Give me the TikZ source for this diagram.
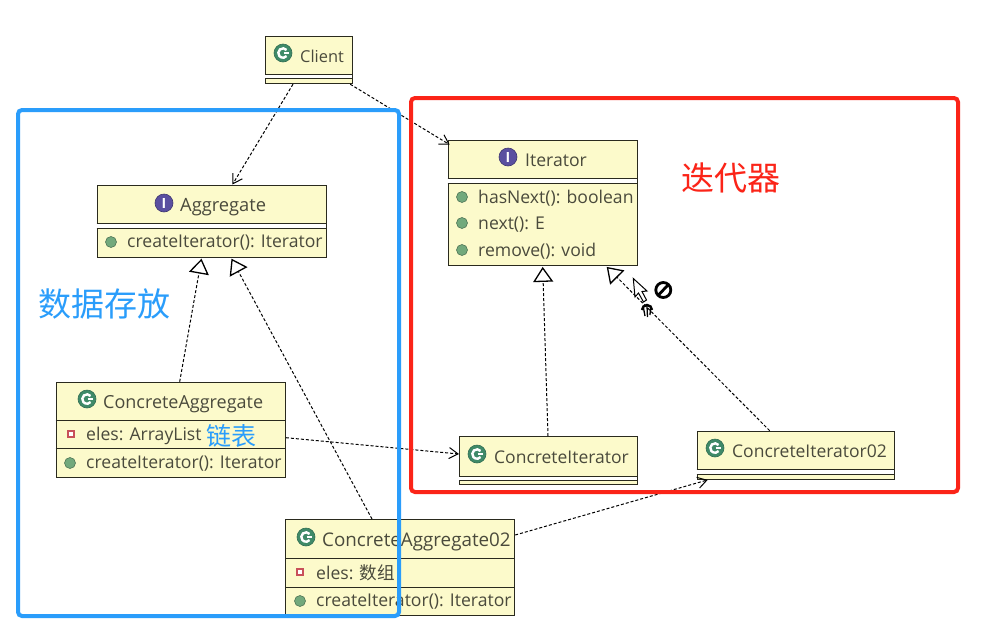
\documentclass[tikz,border=0pt]{standalone}
\usepackage{fontspec}
\setmainfont{Open Sans}
\newfontfamily\cjk{Noto Sans CJK SC}
\usetikzlibrary{arrows.meta,calc}
\definecolor{boxfill}{HTML}{FCFACB}
\definecolor{boxline}{HTML}{2A2A1E}
\definecolor{txt}{HTML}{4A4A3C}
\definecolor{cgreen}{HTML}{3F8A68}
\definecolor{ipurple}{HTML}{5A4FA0}
\definecolor{mgreen}{HTML}{72A97C}
\definecolor{fred}{HTML}{C8505A}
\definecolor{myblue}{HTML}{2A9DFB}
\definecolor{myred}{HTML}{FB2418}
\tikzset{
  classbox/.style={draw=boxline,fill=boxfill,line width=1.2pt,inner sep=0pt,anchor=north west},
  sepline/.style={draw=boxline,line width=1pt},
  gapfill/.style={fill=white},
  label/.style={text=txt,font=\fontsize{17.6}{20}\selectfont,inner sep=0pt,anchor=west},
  head/.style={label,font=\fontsize{#1}{20}\selectfont},
  icong/.style={circle,fill=cgreen,draw=cgreen!80!black,line width=.6pt,minimum size=18pt,inner sep=0pt},
  iconi/.style={circle,fill=ipurple,draw=ipurple!70!black,line width=.6pt,minimum size=18pt,inner sep=0pt,text=white,font=\bfseries\fontsize{14}{14}\selectfont},
  mdot/.style={circle,fill=mgreen,draw=mgreen!70!black,line width=.6pt,minimum size=11pt,inner sep=0pt},
  fdot/.style={rectangle,fill=white,draw=fred,line width=1.8pt,minimum size=6pt,inner sep=0pt},
  dep/.style={draw=black,line width=1pt,dash pattern=on 3pt off 2pt,-{Straight Barb[length=9pt,width=11pt,line width=1pt]}},
  real/.style={draw=black,line width=1pt,dash pattern=on 3pt off 2pt,-{Triangle[open,length=15pt,width=20pt,fill=white,line width=1.3pt]}},
  region/.style={draw,line width=4pt,rounded corners=4pt},
  bigcjk/.style={font=\cjk\fontsize{33}{36}\selectfont,inner sep=0pt},
}
\begin{document}
\begin{tikzpicture}[x=1pt,y=-1pt]
\useasboundingbox[fill=white] (0,0) rectangle (989,622);

% class boxes
\node[classbox,minimum width=87pt,minimum height=47pt] (client) at (265,36) {};
\node[classbox,minimum width=229pt,minimum height=72pt] (aggregate) at (96.5,184.5) {};
\node[classbox,minimum width=189pt,minimum height=125pt] (iterator) at (447.7,139.7) {};
\node[classbox,minimum width=229pt,minimum height=95pt] (ca) at (55.7,381.7) {};
\node[classbox,minimum width=229pt,minimum height=96pt] (ca2) at (285,519) {};
\node[classbox,minimum width=178pt,minimum height=48pt] (ci) at (459,436) {};
\node[classbox,minimum width=197pt,minimum height=48pt] (ci2) at (696.7,430.7) {};

% empty compartments (white gap between two lines)
\foreach \n/\w/\ya/\yb in {client/87/38/42.5,aggregate/229/39/43.5,iterator/189/39/43.5,ci/178/40/44.5,ci2/197/39/44}{
  \fill[gapfill] ($(\n.north west)+(0,\ya)$) rectangle ($(\n.north west)+(\w,\yb)$);
  \draw[sepline] ($(\n.north west)+(0,\ya)$) -- ++(\w,0);
  \draw[sepline] ($(\n.north west)+(0,\yb)$) -- ++(\w,0);
}
% compartment lines
\foreach \n/\w/\ya in {ca/229/39,ca/229/67,ca2/229/39,ca2/229/68}
  \draw[sepline] ($(\n.north west)+(0,\ya)$) -- ++(\w,0);

% class heads
\node[icong] (i1) at (283,53) {};
\node[head=16.4] (t1) at (300,56) {Client};
\node[iconi] (i2) at (164,203) {I};
\node[head=18.3] (t2) at (180,207) {Aggregate};
\node[iconi] (i3) at (508,157) {I};
\node[head=17.6] (t3) at (525,160) {Iterator};
\node[icong] (i4) at (87,399) {};
\node[head=18] (t4) at (103,404) {ConcreteAggregate};
\node[icong] (i5) at (306,537) {};
\node[head=18.8] (t5) at (322,542) {ConcreteAggregate02};
\node[icong] (i6) at (477,454) {};
\node[head=17.5] (t6) at (494,457) {ConcreteIterator};
\node[icong] (i7) at (715,448) {};
\node[head=17.5] (t7) at (732,451) {ConcreteIterator02};
% the white C inside the class icons
\foreach \n in {i1,i4,i5,i6,i7}{
  \draw[white,line width=2.4pt] ($(\n.center)+(3.6,-3)$) arc[start angle=40,end angle=320,radius=4.7pt];
  \draw[white,line width=1.6pt] ($(\n.center)+(.5,.2)$) -- ++(5,0);
}

% members
\node[mdot] (m1) at (111,242) {};
\node[label] (l1) at (127,243) {createIterator(): Iterator};
\node[mdot] (m2) at (462,197) {};
\node[label] (l2) at (478,198) {hasNext(): boolean};
\node[mdot] (m3) at (462,223) {};
\node[label] (l3) at (478,225) {next(): E};
\node[mdot] (m4) at (462,250) {};
\node[label] (l4) at (478,251) {remove(): void};
\node[fdot] (f1) at (71,434) {};
\node[label] (l5) at (86,436) {eles: ArrayList};
\node[mdot] (m5) at (70,463) {};
\node[label] (l6) at (86,464) {createIterator(): Iterator};
\node[fdot] (f2) at (300,572) {};
\node[label] (l7) at (316,573) {eles: {\cjk 数组}};
\node[mdot] (m6) at (300,601) {};
\node[label] (l8) at (316,602) {createIterator(): Iterator};

% connectors
\draw[dep] ($(client.south west)+(28,0)$) -- ($(aggregate.north west)+(136,0)$);
\draw[dep] ($(client.south east)+(-3,0)$) -- ($(iterator.north west)+(2,5)$);
\draw[real] ($(ca.north west)+(124,0)$) -- ($(aggregate.south west)+(105,1)$);
\draw[real] ($(ca2.north west)+(87,0)$) -- ($(aggregate.south west)+(135,1)$);
\draw[real] ($(ci.north west)+(89,0)$) -- ($(iterator.south west)+(95,1)$);
\draw[real] ($(ci2.north west)+(73,0)$) -- ($(iterator.south west)+(159,1)$);
\draw[dep] ($(ca.north east)+(0,56)$) -- ($(ci.north west)+(0,18)$);
\draw[dep] ($(ca2.north east)+(0,16)$) -- ($(ci2.south west)+(11,0)$);

% annotation regions
\draw[region,draw=myblue] (18,110) rectangle (399,616);
\draw[region,draw=myred] (411,98) rectangle (958,492);
\coordinate (blueanchor) at (38,304);
\node[bigcjk,text=myblue,anchor=west] (shuju) at (blueanchor) {数据存放};
\node[bigcjk,text=myred,anchor=west] (diedai) at (681,178) {迭代器};
\node[text=myblue,font=\cjk\fontsize{25}{28}\selectfont,inner sep=0pt,anchor=west] (lianbiao) at (206,436) {链表};

% drag cursor
\draw[black,fill=white,line width=1pt,line join=miter] (633.3,278.5) -- (635,297) -- (638.5,293) -- (643.5,302) -- (646.5,300) -- (642,291.5) -- (647,291) -- cycle;
\draw[black,line width=2.4pt] (642,310) arc[start angle=180,end angle=0,radius=5pt];
\draw[black,line width=1.3pt] (643.5,308) -- (645,316) (647,306) -- (647.5,317) (650.5,308) -- (650,315);
\draw[black,line width=2.8pt] (663.3,290) circle (7.5pt);
\draw[black,line width=2.8pt] (658.5,295) -- (668,285);
\end{tikzpicture}
\end{document}
